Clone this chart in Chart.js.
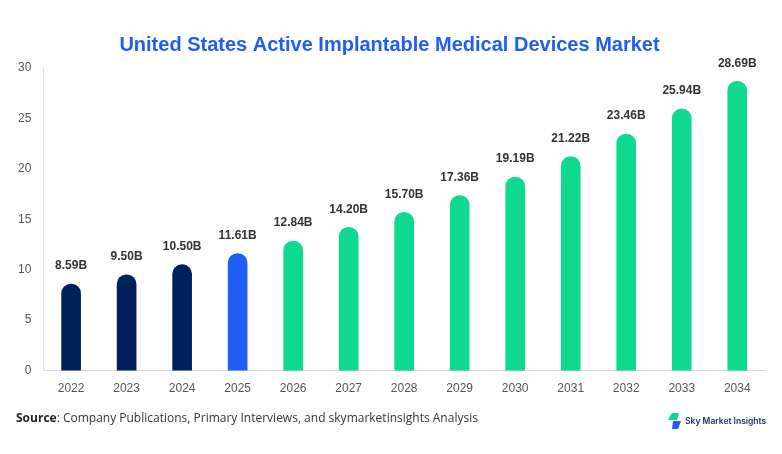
<!DOCTYPE html>
<html lang="en">
<head>
<meta charset="UTF-8">
<title>United States Active Implantable Medical Devices Market</title>
<script src="https://cdn.jsdelivr.net/npm/chart.js@4"></script>
<style>
  body { margin: 0; background: #fff; }
  #wrap { position: relative; width: 782px; height: 454px; }
  #source {
    position: absolute; left: 16px; top: 409px;
    font-family: "Open Sans", "Noto Sans", sans-serif; font-size: 12px; color: #333;
  }
  #source b { font-weight: 700; color: #222; }
  #logo {
    position: absolute; left: 668px; top: 413px; display: flex; align-items: center;
    font-family: "Inter", "Noto Sans", sans-serif; font-size: 8.5px; font-weight: 600; color: #1c2b5a;
  }
</style>
</head>
<body>
<div id="wrap">
  <canvas id="chart" width="782" height="454"></canvas>
  <div id="source"><b>Source</b>: Company Publications, Primary Interviews, and skymarketinsights Analysis</div>
  <div id="logo">
    <svg width="14" height="16" viewBox="0 0 14 16">
      <polygon points="4,0 11,0 9,7 0,7" fill="#12d48c"/>
      <polygon points="5,8 13,8 10,16 4,16" fill="#1f5ef5"/>
    </svg>
    <span style="margin-left:3px">Sky Market Insights</span>
  </div>
</div>
<script>
  // years and market size (USD billion)
  const years = ['2022','2023','2024','2025','2026','2027','2028','2029','2030','2031','2032','2033','2034'];
  const values = [8.59, 9.50, 10.50, 11.61, 12.84, 14.20, 15.70, 17.36, 19.19, 21.22, 23.46, 25.94, 28.69];
  const barColors = years.map(y => y < '2025' ? '#00205b' : (y === '2025' ? '#1f5ef5' : '#0fd98f'));

  // value labels above each bar
  const valueLabels = {
    id: 'valueLabels',
    afterDatasetsDraw(chart) {
      const ctx = chart.ctx;
      const meta = chart.getDatasetMeta(0);
      ctx.save();
      ctx.font = 'bold 12px "Liberation Sans", Arial, sans-serif';
      ctx.fillStyle = '#333';
      ctx.textAlign = 'center';
      ctx.textBaseline = 'bottom';
      meta.data.forEach((bar, i) => {
        ctx.fillText(values[i].toFixed(2) + 'B', bar.x, bar.y - 12);
      });
      ctx.restore();
    }
  };

  new Chart(document.getElementById('chart'), {
    type: 'bar',
    data: {
      labels: years,
      datasets: [{
        data: values,
        backgroundColor: barColors,
        barThickness: 19,
        borderRadius: 10,
        borderSkipped: 'start'
      }]
    },
    options: {
      responsive: false,
      animation: false,
      devicePixelRatio: 1,
      layout: { padding: { left: 14, right: 17, top: 0, bottom: 55 } },
      plugins: {
        legend: { display: false },
        tooltip: { enabled: false },
        title: {
          display: true,
          text: 'United States Active Implantable Medical Devices Market',
          color: '#1f5ef5',
          font: { family: '"Liberation Sans", Arial, sans-serif', size: 20, weight: 'bold' },
          padding: { top: 33, bottom: 11 }
        }
      },
      scales: {
        x: {
          grid: { display: false },
          border: { color: '#d9d9d9' },
          ticks: { color: '#555', font: { family: '"Liberation Sans", Arial, sans-serif', size: 12 }, padding: 3 }
        },
        y: {
          min: 0, max: 30,
          grid: { display: false },
          border: { display: true, color: '#e0e0e0' },
          ticks: { stepSize: 5, color: '#555', font: { family: '"Liberation Sans", Arial, sans-serif', size: 12 }, padding: 4 }
        }
      }
    },
    plugins: [valueLabels]
  });
</script>
</body>
</html>
